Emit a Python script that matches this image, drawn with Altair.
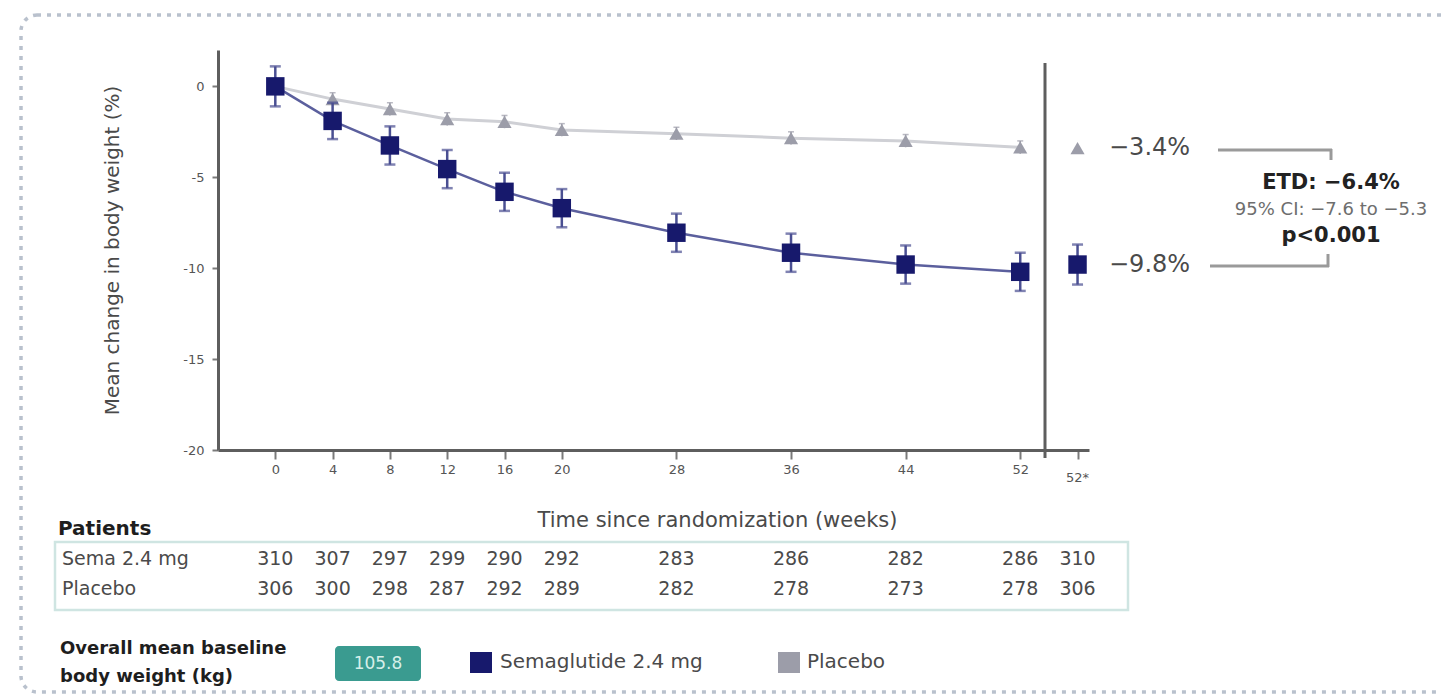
import altair as alt
import pandas as pd

# Mean % change in body weight from baseline, by visit week
weeks = [0, 4, 8, 12, 16, 20, 28, 36, 44, 52]
sema_change = [0.0, -1.9, -3.25, -4.55, -5.8, -6.7, -8.05, -9.15, -9.8, -10.2]
sema_err = [1.1, 1.0, 1.05, 1.05, 1.05, 1.05, 1.05, 1.05, 1.05, 1.05]
placebo_change = [0.0, -0.7, -1.25, -1.8, -1.95, -2.4, -2.6, -2.85, -3.0, -3.35]
placebo_err = [0.0, 0.35, 0.35, 0.35, 0.35, 0.35, 0.35, 0.35, 0.35, 0.35]

# Week-52 estimates plotted in the separate "52*" slot
end_week = 56
end_sema = -9.8
end_sema_low, end_sema_high = -10.9, -8.7
end_placebo = -3.4

# Patients at each visit
risk_weeks = [0, 4, 8, 12, 16, 20, 28, 36, 44, 52, 56]
sema_n = [310, 307, 297, 299, 290, 292, 283, 286, 282, 286, 310]
placebo_n = [306, 300, 298, 287, 292, 289, 282, 278, 273, 278, 306]
row_labels = ["Sema 2.4 mg", "Placebo"]

x_tick_values = [0, 4, 8, 12, 16, 20, 28, 36, 44, 52, 56]
y_tick_values = [0, -5, -10, -15, -20]

etd_lines = ["ETD: \u22126.4%", "95% CI: \u22127.6 to \u22125.3", "p<0.001"]
baseline_weight = "105.8"
legend_names = ["Semaglutide 2.4 mg", "Placebo"]

FONT = "DejaVu Sans"
NAVY = "#17196c"
SEMA_LINE = "#5b5f9d"
SEMA_BAR = "#4a4f92"
PLACEBO = "#9c9da9"
PLACEBO_LINE = "#cfd0d5"
AXIS = "#5e5e5e"
TEXT = "#4a4a4a"

# plot-area placement inside the 1441x696 canvas
LEFT, TOP = 218, 50
W, H = 871, 400


def px(x):
    return x - LEFT


def py(y):
    return y - TOP


xscale = alt.Scale(domain=[-4, 56.8], nice=False, zero=False)
yscale = alt.Scale(domain=[-20, 2], nice=False, zero=False)

x_axis = alt.Axis(
    values=x_tick_values,
    labelExpr="datum.value == 56 ? '' : '' + datum.value",
    title="Time since randomization (weeks)",
    titleX=499, titleY=70, titleAlign="center", titleBaseline="middle",
    titleFontSize=21, titleFontWeight="normal", titleColor=TEXT, titleFont=FONT,
    labelFontSize=13, labelColor="#555555", labelFont=FONT, labelPadding=4,
    tickSize=9, tickWidth=2, tickColor="#7a7a7a",
    domainColor=AXIS, domainWidth=3, grid=False, labelFlush=False,
)
y_axis = alt.Axis(
    values=y_tick_values,
    labelExpr="'' + datum.value",
    title="Mean change in body weight (%)",
    titleX=-106, titleY=200, titleAngle=270, titleAlign="center",
    titleBaseline="middle", titleFontSize=20, titleFontWeight="normal",
    titleColor=TEXT, titleFont=FONT,
    labelFontSize=13, labelColor="#555555", labelFont=FONT, labelPadding=8,
    tickSize=6, tickWidth=2, tickColor="#7a7a7a",
    domainColor=AXIS, domainWidth=3, grid=False,
)


def X(field):
    return alt.X(f"{field}:Q", scale=xscale, axis=x_axis)


def Y(field):
    return alt.Y(f"{field}:Q", scale=yscale, axis=y_axis)


series = pd.DataFrame({
    "week": weeks,
    "sema": sema_change,
    "sema_lo": [v - e for v, e in zip(sema_change, sema_err)],
    "sema_hi": [v + e for v, e in zip(sema_change, sema_err)],
    "placebo": placebo_change,
    "pl_lo": [v - e for v, e in zip(placebo_change, placebo_err)],
    "pl_hi": [v + e for v, e in zip(placebo_change, placebo_err)],
})
ends = pd.DataFrame({
    "week": [end_week],
    "sema": [end_sema],
    "sema_lo": [end_sema_low],
    "sema_hi": [end_sema_high],
    "placebo": [end_placebo],
})
one = pd.DataFrame({"k": [0]})

base = alt.Chart(series)

placebo_line = base.mark_line(color=PLACEBO_LINE, strokeWidth=3).encode(x=X("week"), y=Y("placebo"))
placebo_bar = base.mark_rule(color=PLACEBO, strokeWidth=1.5).encode(
    x=X("week"), y=Y("pl_lo"), y2="pl_hi")
placebo_cap_hi = base.mark_tick(color=PLACEBO, orient="horizontal", size=6, thickness=1.5).encode(
    x=X("week"), y=Y("pl_hi"))
placebo_pts = base.mark_point(shape="triangle-up", filled=True, size=200, color=PLACEBO, opacity=1).encode(
    x=X("week"), y=Y("placebo"))

sema_line = base.mark_line(color=SEMA_LINE, strokeWidth=2.5).encode(x=X("week"), y=Y("sema"))
sema_bar = base.mark_rule(color=SEMA_BAR, strokeWidth=2.5).encode(x=X("week"), y=Y("sema_lo"), y2="sema_hi")
sema_cap_lo = base.mark_tick(color=SEMA_BAR, orient="horizontal", size=11, thickness=2.5).encode(
    x=X("week"), y=Y("sema_lo"))
sema_cap_hi = base.mark_tick(color=SEMA_BAR, orient="horizontal", size=11, thickness=2.5).encode(
    x=X("week"), y=Y("sema_hi"))
sema_pts = base.mark_point(shape="square", filled=True, size=340, color=NAVY, opacity=1).encode(
    x=X("week"), y=Y("sema"))

# separate end-of-trial slot
endc = alt.Chart(ends)
end_bar = endc.mark_rule(color=SEMA_BAR, strokeWidth=2.5).encode(x=X("week"), y=Y("sema_lo"), y2="sema_hi")
end_cap_lo = endc.mark_tick(color=SEMA_BAR, orient="horizontal", size=11, thickness=2.5).encode(
    x=X("week"), y=Y("sema_lo"))
end_cap_hi = endc.mark_tick(color=SEMA_BAR, orient="horizontal", size=11, thickness=2.5).encode(
    x=X("week"), y=Y("sema_hi"))
end_sq = endc.mark_point(shape="square", filled=True, size=340, color=NAVY, opacity=1).encode(
    x=X("week"), y=Y("sema"))
end_tri = endc.mark_point(shape="triangle-up", filled=True, size=200, color=PLACEBO, opacity=1).encode(
    x=X("week"), y=Y("placebo"))

star_label = alt.Chart(pd.DataFrame({"week": [56], "t": ["52*"]})).mark_text(
    font=FONT, fontSize=13, color="#555555", baseline="middle", align="center").encode(
    x=X("week"), y=alt.value(py(478)), text="t:N")

separator = alt.Chart(one).mark_rule(color=AXIS, strokeWidth=3).encode(
    x=alt.value(px(1045)), y=alt.value(py(63)), y2=alt.value(py(458)))

value_labels = alt.Chart(pd.DataFrame({
    "v": [end_placebo, end_sema],
    "t": [f"\u2212{abs(end_placebo)}%", f"\u2212{abs(end_sema)}%"],
})).mark_text(font=FONT, fontSize=24, color=TEXT, align="left", baseline="middle").encode(
    x=alt.value(px(1109)), y=Y("v"), text="t:N")


def seg(x1, y1, x2, y2, color="#9a9a9a", width=3):
    return alt.Chart(one).mark_rule(color=color, strokeWidth=width).encode(
        x=alt.value(px(x1)), x2=alt.value(px(x2)), y=alt.value(py(y1)), y2=alt.value(py(y2)))


# bracket joining the two end values
bracket = [
    seg(1218, 150, 1332, 150),
    seg(1331, 149, 1331, 160),
    seg(1210, 266, 1329, 266),
    seg(1328, 254, 1328, 267),
]


def text_at(t, x, y, size, weight="normal", color=TEXT, align="left"):
    return alt.Chart(pd.DataFrame({"t": [t]})).mark_text(
        font=FONT, fontSize=size, fontWeight=weight, color=color,
        align=align, baseline="middle").encode(
        x=alt.value(px(x)), y=alt.value(py(y)), text="t:N")


etd = text_at(etd_lines[0], 1331, 183, 21, "bold", "#222222", "center")
ci = text_at(etd_lines[1], 1331, 210, 18, "normal", "#6e6e6e", "center")
pval = text_at(etd_lines[2], 1331, 236, 21, "bold", "#222222", "center")

# dotted frame around the figure
frame = alt.Chart(one).mark_rect(
    fillOpacity=0, stroke="#b9c1cd", strokeWidth=3.5, strokeDash=[4, 6], cornerRadius=16).encode(
    x=alt.value(px(21)), x2=alt.value(px(1480)), y=alt.value(py(15)), y2=alt.value(py(692)))

# patients table
table_box = alt.Chart(one).mark_rect(
    fillOpacity=0, stroke="#cfe5e2", strokeWidth=2.5).encode(
    x=alt.value(px(55)), x2=alt.value(px(1128)), y=alt.value(py(542)), y2=alt.value(py(610)))
patients_title = text_at("Patients", 58, 529, 20, "bold", "#1e1e1e")
row1 = text_at(row_labels[0], 62, 559, 19, "normal", TEXT)
row2 = text_at(row_labels[1], 62, 589, 19, "normal", TEXT)

risk = pd.DataFrame({"week": risk_weeks, "sema_n": sema_n, "placebo_n": placebo_n})
risk_sema = alt.Chart(risk).mark_text(font=FONT, fontSize=19, color=TEXT, baseline="middle").encode(
    x=X("week"), y=alt.value(py(559)), text="sema_n:Q")
risk_placebo = alt.Chart(risk).mark_text(font=FONT, fontSize=19, color=TEXT, baseline="middle").encode(
    x=X("week"), y=alt.value(py(589)), text="placebo_n:Q")

# baseline weight + legend
bw1 = text_at("Overall mean baseline", 60, 649, 18, "bold", "#1e1e1e")
bw2 = text_at("body weight (kg)", 60, 677, 18, "bold", "#1e1e1e")
bw_box = alt.Chart(one).mark_rect(color="#3a9b90", cornerRadius=4).encode(
    x=alt.value(px(335)), x2=alt.value(px(421)), y=alt.value(py(646)), y2=alt.value(py(681)))
bw_val = text_at(baseline_weight, 378, 664, 17, "normal", "#d6efe9", "center")

leg_sema_sw = alt.Chart(one).mark_rect(color=NAVY).encode(
    x=alt.value(px(470)), x2=alt.value(px(492)), y=alt.value(py(652)), y2=alt.value(py(673)))
leg_sema = text_at(legend_names[0], 500, 662, 20, "normal", TEXT)
leg_pl_sw = alt.Chart(one).mark_rect(color=PLACEBO).encode(
    x=alt.value(px(778)), x2=alt.value(px(800)), y=alt.value(py(652)), y2=alt.value(py(673)))
leg_pl = text_at(legend_names[1], 807, 662, 20, "normal", TEXT)

chart = alt.layer(
    placebo_line, frame,
    placebo_bar, placebo_cap_hi, placebo_pts,
    sema_line, sema_bar, sema_cap_lo, sema_cap_hi, sema_pts,
    separator,
    end_bar, end_cap_lo, end_cap_hi, end_sq, end_tri,
    star_label, value_labels, *bracket, etd, ci, pval,
    table_box, patients_title, row1, row2, risk_sema, risk_placebo,
    bw1, bw2, bw_box, bw_val, leg_sema_sw, leg_sema, leg_pl_sw, leg_pl,
).properties(
    width=W, height=H,
    padding={"left": LEFT, "top": TOP, "right": 1441 - LEFT - W, "bottom": 696 - TOP - H},
    autosize=alt.AutoSizeParams(type="none"),
    background="white",
).configure(font=FONT).configure_view(stroke=None)

chart.save("out.html", embed_options={"renderer": "svg", "actions": False})
